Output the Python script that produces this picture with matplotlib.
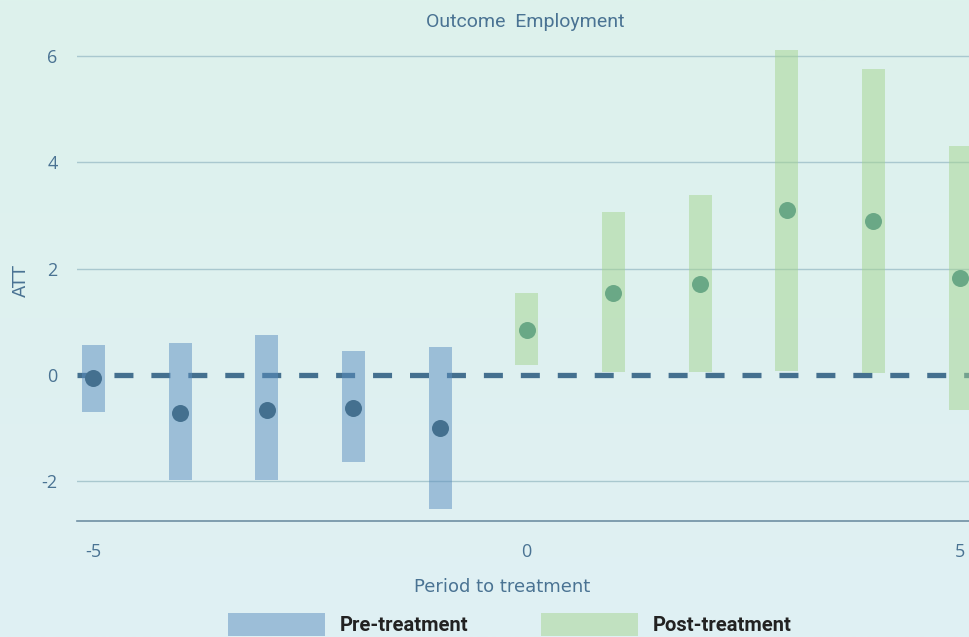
import numpy as np
import matplotlib.pyplot as plt
from matplotlib.patches import Patch

plt.rcParams["axes.unicode_minus"] = False

# event-study estimates
pre_periods = [-5, -4, -3, -2, -1]
pre_att = [-0.05, -0.71, -0.66, -0.62, -0.99]
pre_lo = [-0.70, -1.98, -1.98, -1.64, -2.53]
pre_hi = [0.56, 0.60, 0.75, 0.45, 0.52]

post_periods = [0, 1, 2, 3, 4, 5]
post_att = [0.85, 1.55, 1.71, 3.10, 2.89, 1.83]
post_lo = [0.19, 0.06, 0.06, 0.08, 0.04, -0.66]
post_hi = [1.54, 3.06, 3.38, 6.11, 5.76, 4.31]

y_ticks = [-2, 0, 2, 4, 6]
x_ticks = [-5, 0, 5]

text_col = "#4a7393"
pre_bar, pre_dot = "#5a8ebf", "#44708f"
post_bar, post_dot = "#a4d48f", "#6aa886"

fig = plt.figure(figsize=(9.7, 6.37), dpi=100)

# soft background gradient
bg = fig.add_axes([0, 0, 1, 1], zorder=-10)
top = np.array([221, 242, 236]) / 255
bot = np.array([224, 240, 244]) / 255
t = np.linspace(0, 1, 256)[:, None]
grad = (top * (1 - t) + bot * t)[:, None, :]
bg.imshow(grad, aspect="auto", extent=[0, 1, 0, 1])
bg.axis("off")

ax = fig.add_axes([77 / 970, 116 / 637, 893 / 970, 491.4 / 637])
ax.set_facecolor("none")

ax.axhline(0, color=pre_dot, lw=3.8, dashes=(3.6, 3.4), zorder=1)

ax.bar(pre_periods, np.array(pre_hi) - np.array(pre_lo), bottom=pre_lo,
       width=0.265, color=pre_bar, alpha=0.5, zorder=2, label="Pre-treatment")
ax.bar(post_periods, np.array(post_hi) - np.array(post_lo), bottom=post_lo,
       width=0.265, color=post_bar, alpha=0.5, zorder=2, label="Post-treatment")
ax.scatter(pre_periods, pre_att, s=150, color=pre_dot, zorder=3, lw=0)
ax.scatter(post_periods, post_att, s=150, color=post_dot, zorder=3, lw=0)

ax.set_xlim(-5.19, 5.115)
ax.set_ylim(-2.75, 6.5)
ax.set_xticks(x_ticks)
ax.set_yticks(y_ticks)
ax.tick_params(length=0, labelsize=13, labelcolor=text_col)
ax.tick_params(axis="y", pad=14)
ax.tick_params(axis="x", pad=16)
for lbl in ax.get_xticklabels() + ax.get_yticklabels():
    lbl.set_family("Open Sans")

ax.grid(axis="y", color="#a9c8cf", lw=1)
ax.set_axisbelow(True)
for val, line in zip(ax.get_yticks(), ax.get_ygridlines()):
    if val == 0:
        line.set_visible(False)

for side in ["top", "right", "left"]:
    ax.spines[side].set_visible(False)
ax.spines["bottom"].set_color("#6f8fa3")
ax.spines["bottom"].set_linewidth(1.2)

ax.set_xlabel("Period to treatment", fontsize=13, color=text_col)
ax.xaxis.set_label_coords(0.476, -0.115)
ax.set_ylabel("ATT", fontsize=13, color=text_col)
ax.yaxis.set_label_coords(-0.053, 0.49)

fig.text(525 / 970, 1 - 22 / 637, "Outcome  Employment", ha="center",
         va="center", fontsize=14, color=text_col, family="Roboto")

handles = [Patch(color=pre_bar, alpha=0.5, lw=0), Patch(color=post_bar, alpha=0.5, lw=0)]
fig.legend(handles, ["Pre-treatment", "Post-treatment"], loc="center",
           bbox_to_anchor=(0.526, 0.02), ncol=2, frameon=False,
           prop={"family": "Roboto", "weight": "bold", "size": 14.5},
           labelcolor="#222222", handlelength=4.8, handleheight=1.4,
           handletextpad=0.75, columnspacing=3.6, borderaxespad=0,
           borderpad=0.1)

fig.savefig("out.png", dpi=100)
